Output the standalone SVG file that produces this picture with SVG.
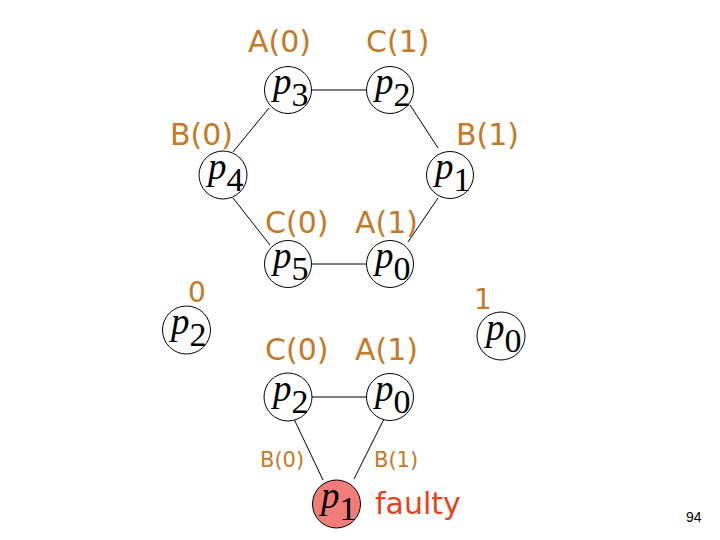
<svg xmlns="http://www.w3.org/2000/svg" width="720" height="540" viewBox="0 0 720 540">
<style>
.n{fill:#fff;stroke:#000;stroke-width:1}
.f{fill:#f27c78;stroke:#000;stroke-width:1}
.p{font-family:"Liberation Serif",serif;font-style:italic;font-size:37px;fill:#000}
.s{font-style:normal;font-size:34px}
.l{font-family:"DejaVu Sans",sans-serif;font-size:30px;fill:#c47a28}
.sm{font-family:"DejaVu Sans",sans-serif;font-size:21px;fill:#c47a28}
.e line{stroke:#000;stroke-width:1}
</style>
<rect width="720" height="540" fill="#fff"/>
<g class="e" id="connectors">
<line x1="312" y1="90" x2="367" y2="90"/>
<line x1="269" y1="108" x2="233" y2="152"/>
<line x1="410" y1="105" x2="438" y2="148"/>
<line x1="233" y1="198" x2="270" y2="245"/>
<line x1="438" y1="198" x2="408" y2="242"/>
<line x1="312" y1="264" x2="367" y2="264"/>
<line x1="312" y1="397" x2="367" y2="397"/>
<line x1="294" y1="419" x2="323" y2="480"/>
<line x1="384" y1="419" x2="354" y2="479"/>
</g>
<g id="p3top"><circle class="n" cx="288" cy="90" r="23.5"/><text class="p" x="273" y="94">p<tspan class="s" dy="12">3</tspan></text></g>
<g id="p2top"><circle class="n" cx="390" cy="90" r="23.5"/><text class="p" x="375" y="94">p<tspan class="s" dy="12">2</tspan></text></g>
<g id="p4"><circle class="n" cx="223" cy="175" r="24"/><text class="p" x="208" y="179">p<tspan class="s" dy="12">4</tspan></text></g>
<g id="p1top"><circle class="n" cx="450" cy="175" r="23.5"/><text class="p" x="435" y="179">p<tspan class="s" dy="12">1</tspan></text></g>
<g id="p5"><circle class="n" cx="288" cy="264" r="23.5"/><text class="p" x="273" y="268">p<tspan class="s" dy="12">5</tspan></text></g>
<g id="p0mid"><circle class="n" cx="390" cy="264" r="23.5"/><text class="p" x="375" y="268">p<tspan class="s" dy="12">0</tspan></text></g>
<g id="p2left"><circle class="n" cx="186.5" cy="330" r="24"/><text class="p" x="171" y="334">p<tspan class="s" dy="12">2</tspan></text></g>
<g id="p0right"><circle class="n" cx="501" cy="336" r="24"/><text class="p" x="486" y="340">p<tspan class="s" dy="12">0</tspan></text></g>
<g id="p2low"><circle class="n" cx="288" cy="397" r="24"/><text class="p" x="273" y="401">p<tspan class="s" dy="12">2</tspan></text></g>
<g id="p0low"><circle class="n" cx="390" cy="397" r="23.5"/><text class="p" x="375" y="401">p<tspan class="s" dy="12">0</tspan></text></g>
<g id="p1faulty"><circle class="f" cx="336.5" cy="504" r="24"/><text class="p" x="321" y="508">p<tspan class="s" dy="12">1</tspan></text></g>
<g id="labels">
<text class="l" x="248" y="52">A(0)</text>
<text class="l" x="366" y="52">C(1)</text>
<text class="l" x="170" y="145">B(0)</text>
<text class="l" x="456" y="145">B(1)</text>
<text class="l" x="265" y="233">C(0)</text>
<text class="l" x="355" y="233">A(1)</text>
<text class="l" x="188" y="302" style="font-size:28px">0</text>
<text class="l" x="474" y="309" style="font-size:28px">1</text>
<text class="l" x="265" y="360">C(0)</text>
<text class="l" x="355" y="360">A(1)</text>
<text class="sm" x="260" y="467">B(0)</text>
<text class="sm" x="374" y="467">B(1)</text>
<text class="l" x="375" y="514" style="fill:#e8401c">faulty</text>
<text x="686" y="522" style="font-family:'Liberation Sans',sans-serif;font-size:14px;fill:#000">94</text>
</g>
</svg>
